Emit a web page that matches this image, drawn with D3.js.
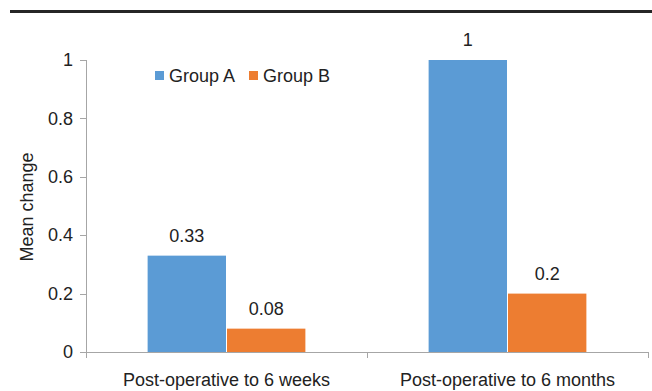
<!DOCTYPE html>
<html lang="en">
<head>
    <meta charset="UTF-8">
    <title>Mean change</title>
    <script src="https://d3js.org/d3.v7.min.js"></script>
    <style>
        * { margin: 0; padding: 0; box-sizing: border-box; }
        body { background: #fff; font-family: "Liberation Sans", Arial, sans-serif; }
        .axis path, .axis line { stroke: #a6a6a6; shape-rendering: crispEdges; }
        .axis text { font-size: 18px; fill: #222; font-family: "Liberation Sans", Arial, sans-serif; }
        .label { font-size: 18px; fill: #222; text-anchor: middle; }
    </style>
</head>
<body>
    <div id="chart"></div>
    <script>
        const categories = ["Post-operative to 6 weeks", "Post-operative to 6 months"];
        const groups = ["Group A", "Group B"];
        const groupA = [0.33, 1];
        const groupB = [0.08, 0.2];
        const yTicks = [0, 0.2, 0.4, 0.6, 0.8, 1];
        const colors = ["#5b9bd5", "#ed7d31"];

        const Width = 652, Height = 391;
        const margin = { top: 60, right: 4, bottom: 39, left: 86 };
        const innerW = Width - margin.left - margin.right;
        const innerH = Height - margin.top - margin.bottom;

        const data = categories.map((c, i) => ({
            category: c,
            values: [
                { group: groups[0], value: groupA[i] },
                { group: groups[1], value: groupB[i] }
            ]
        }));

        const svg = d3.select("#chart").append("svg")
            .attr("width", Width)
            .attr("height", Height);

        // thick rule at the top of the figure
        svg.append("rect")
            .attr("x", 10).attr("y", 10)
            .attr("width", Width - 10).attr("height", 3)
            .attr("fill", "#262626");

        const g = svg.append("g")
            .attr("transform", `translate(${margin.left},${margin.top})`);

        const x0 = d3.scaleBand().domain(categories).range([0, innerW]).padding(0);
        const x1 = d3.scaleBand().domain(groups).range([0, x0.bandwidth()])
            .paddingInner(0).paddingOuter(0.77);
        const y = d3.scaleLinear().domain([0, 1]).range([innerH, 0]);
        const color = d3.scaleOrdinal().domain(groups).range(colors);

        // y axis
        g.append("g")
            .attr("class", "axis")
            .call(d3.axisLeft(y).tickValues(yTicks).tickFormat(d3.format("")).tickSize(6).tickSizeOuter(0).tickPadding(7))
            .select(".domain").attr("d", `M0,0V${innerH + 6}`);

        // bars
        const cat = g.selectAll(".cat")
            .data(data)
            .enter().append("g")
            .attr("transform", d => `translate(${x0(d.category)},0)`);

        cat.selectAll("rect")
            .data(d => d.values)
            .enter().append("rect")
            .attr("x", d => x1(d.group) + 0.5)
            .attr("width", x1.bandwidth() - 1)
            .attr("y", d => y(d.value))
            .attr("height", d => innerH - y(d.value))
            .attr("fill", d => color(d.group));

        cat.selectAll(".label")
            .data(d => d.values)
            .enter().append("text")
            .attr("class", "label")
            .attr("x", d => x1(d.group) + x1.bandwidth() / 2)
            .attr("y", d => y(d.value) - 14)
            .text(d => d3.format("")(d.value));

        // x axis
        const xAxis = g.append("g")
            .attr("class", "axis")
            .attr("transform", `translate(0,${innerH})`)
            .call(d3.axisBottom(x0).tickSize(0).tickPadding(21));
        xAxis.select(".domain").attr("d", `M-3,0H${innerW}`);
        xAxis.selectAll(".sep")
            .data([0, innerW / 2, innerW])
            .enter().append("line")
            .attr("x1", d => d).attr("x2", d => d)
            .attr("y1", 0).attr("y2", 6)
            .attr("stroke", "#a6a6a6");

        // y label
        g.append("text")
            .attr("transform", `translate(${-53},${innerH / 2 + 1}) rotate(-90)`)
            .attr("text-anchor", "middle")
            .style("font-size", "18px")
            .attr("fill", "#222")
            .text("Mean change");

        // legend
        const legend = g.append("g").attr("transform", "translate(69,16)");
        const item = legend.selectAll(".item")
            .data(groups)
            .enter().append("g")
            .attr("transform", (d, i) => `translate(${i * 94},0)`);
        item.append("rect")
            .attr("x", 0).attr("y", -5)
            .attr("width", 9).attr("height", 9)
            .attr("fill", d => color(d));
        item.append("text")
            .attr("x", 14).attr("y", 0).attr("dy", "0.35em")
            .style("font-size", "18px")
            .attr("fill", "#222")
            .text(d => d);
    </script>
</body>
</html>
